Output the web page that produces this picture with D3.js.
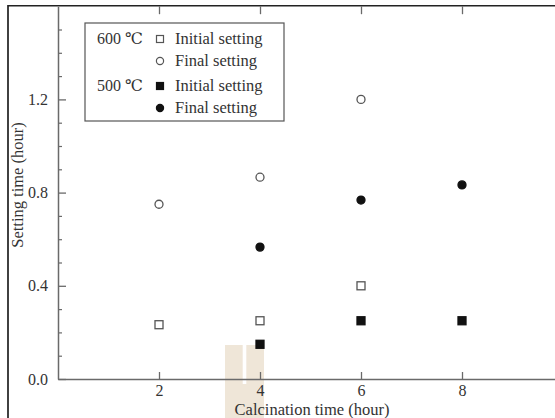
<!DOCTYPE html>
<html>
<head>
<meta charset="utf-8">
<script src="https://cdn.jsdelivr.net/npm/d3@7"></script>
<style>
  html, body { margin: 0; padding: 0; background: #ffffff; }
  svg { display: block; }
  text { font-family: "Liberation Serif", "DejaVu Serif", "Noto Sans CJK SC", serif; fill: #333; }
</style>
</head>
<body>
<svg id="chart" width="555" height="418"></svg>
<script>
// ---- data ----
const x600 = [2, 4, 6];
const initial600 = [0.233, 0.25, 0.40];
const final600 = [0.75, 0.866, 1.20];
const x500 = [4, 6, 8];
const initial500 = [0.149, 0.25, 0.25];
const final500 = [0.566, 0.768, 0.833];
const xTicks = [2, 4, 6, 8];
const yTicks = [0.0, 0.4, 0.8, 1.2];
const yMinorTicks = [0.1,0.2,0.3,0.5,0.6,0.7,0.9,1.0,1.1,1.3,1.4,1.5];
const legendGroups = ["600 ℃", "500 ℃"];
const legendLabels = ["Initial setting", "Final setting"];
const xTitle = "Calcination time (hour)";
const yTitle = "Setting time (hour)";

const svg = d3.select("#chart");
const W = 555, H = 418;
const x = d3.scaleLinear().domain([0, 10]).range([58, 563]);
const y = d3.scaleLinear().domain([0, 1.6]).range([379, 6.2]);
const axisColor = "#6a6a6a";

// decorative beige band behind "4"
const band = svg.append("g");
band.append("rect").attr("x", 225).attr("y", 345).attr("width", 39).attr("height", H - 345).attr("fill", "#efe6d8");
band.append("rect").attr("x", 242.7).attr("y", 345).attr("width", 3.6).attr("height", 39).attr("fill", "#ffffff");

// outer frame lines
svg.append("line").attr("x1", 8).attr("x2", 8).attr("y1", 5).attr("y2", H).attr("stroke", "#111").attr("stroke-width", 1.6);
svg.append("line").attr("x1", 8).attr("x2", W).attr("y1", 5.8).attr("y2", 5.8).attr("stroke", "#222").attr("stroke-width", 1.6);

// bottom axis (ticks inward)
const gx = svg.append("g").attr("transform", `translate(0,${y(0)})`)
  .call(d3.axisBottom(x).tickValues(xTicks).tickSizeInner(-7).tickSizeOuter(0).tickPadding(6).tickFormat(d3.format("d")));
gx.select(".domain").attr("stroke", axisColor).attr("stroke-width", 1.5);
gx.selectAll(".tick line").attr("stroke", axisColor).attr("stroke-width", 1.3);
gx.selectAll(".tick text").attr("font-size", 16).attr("fill", "#333").attr("font-family", "Liberation Serif, serif");

// top ticks
const gt = svg.append("g").attr("transform", `translate(0,${y(1.6)})`)
  .call(d3.axisTop(x).tickValues(xTicks).tickSizeInner(-8).tickSizeOuter(0).tickFormat(""));
gt.select(".domain").remove();
gt.selectAll(".tick line").attr("stroke", axisColor).attr("stroke-width", 1.3);

// left axis
const gy = svg.append("g").attr("transform", `translate(${x(0)},0)`)
  .call(d3.axisLeft(y).tickValues(yTicks).tickSizeInner(-8).tickSizeOuter(0).tickPadding(10).tickFormat(d3.format(".1f")));
gy.select(".domain").attr("stroke", axisColor).attr("stroke-width", 1.5);
gy.selectAll(".tick line").attr("stroke", axisColor).attr("stroke-width", 1.3);
gy.selectAll(".tick text").attr("font-size", 16).attr("fill", "#333").attr("font-family", "Liberation Serif, serif");
const gym = svg.append("g").attr("transform", `translate(${x(0)},0)`)
  .call(d3.axisLeft(y).tickValues(yMinorTicks).tickSizeInner(-4).tickSizeOuter(0).tickFormat(""));
gym.select(".domain").remove();
gym.selectAll(".tick line").attr("stroke", axisColor).attr("stroke-width", 1.2);

// axis titles
svg.append("text").attr("x", 312).attr("y", 414.5).attr("text-anchor", "middle").attr("font-size", 16.5).text(xTitle);
svg.append("text").attr("transform", "translate(23,185) rotate(-90)").attr("text-anchor", "middle").attr("font-size", 16.5).text(yTitle);

// markers
const SQ = 8, R = 4;
function squares(xs, ys, filled) {
  svg.append("g").selectAll("rect").data(xs.map((d, i) => [d, ys[i]])).join("rect")
    .attr("x", d => x(d[0]) - SQ / 2).attr("y", d => y(d[1]) - SQ / 2)
    .attr("width", SQ).attr("height", SQ)
    .attr("fill", filled ? "#111" : "#fff")
    .attr("stroke", filled ? "#111" : "#555").attr("stroke-width", 1.3);
}
function circles(xs, ys, filled) {
  svg.append("g").selectAll("circle").data(xs.map((d, i) => [d, ys[i]])).join("circle")
    .attr("cx", d => x(d[0])).attr("cy", d => y(d[1])).attr("r", R)
    .attr("fill", filled ? "#111" : "#fff")
    .attr("stroke", filled ? "#111" : "#555").attr("stroke-width", 1.3);
}
squares(x600, initial600, false);
circles(x600, final600, false);
squares(x500, initial500, true);
circles(x500, final500, true);

// legend
const lg = svg.append("g");
lg.append("rect").attr("x", 85).attr("y", 23).attr("width", 199).attr("height", 98)
  .attr("fill", "#fff").attr("stroke", "#555").attr("stroke-width", 1.2);
const rows = [39, 61, 86, 108];
const lsq = 7, lr = 3.6;
rows.forEach((ry, i) => {
  const filled = i >= 2;
  const isSquare = i % 2 === 0;
  if (isSquare) {
    lg.append("rect").attr("x", 160 - lsq / 2).attr("y", ry - lsq / 2).attr("width", lsq).attr("height", lsq)
      .attr("fill", filled ? "#111" : "#fff").attr("stroke", filled ? "#111" : "#555").attr("stroke-width", 1.2);
  } else {
    lg.append("circle").attr("cx", 160).attr("cy", ry).attr("r", lr)
      .attr("fill", filled ? "#111" : "#fff").attr("stroke", filled ? "#111" : "#555").attr("stroke-width", 1.2);
  }
  lg.append("text").attr("x", 175).attr("y", ry).attr("dy", "0.33em").attr("font-size", 16.5).text(legendLabels[i % 2]);
  if (isSquare) {
    lg.append("text").attr("x", 97).attr("y", ry).attr("dy", "0.33em").attr("font-size", 16).text(legendGroups[i / 2]);
  }
});
</script>
</body>
</html>
